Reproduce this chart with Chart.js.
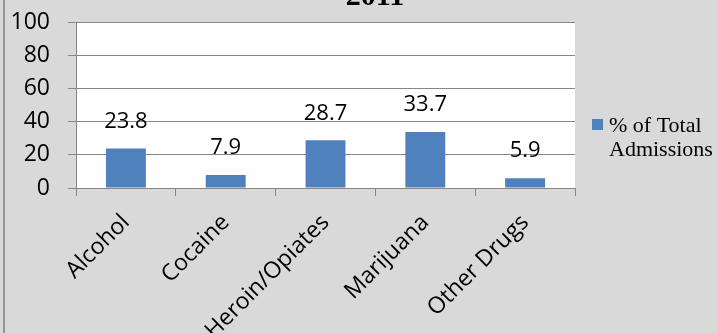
<!DOCTYPE html>
<html>
<head>
<meta charset="utf-8">
<script src="https://cdn.jsdelivr.net/npm/chart.js@4/dist/chart.umd.min.js"></script>
<style>
    html, body { margin: 0; padding: 0; background: #d9d9d9; }
    canvas { display: block; }
</style>
</head>
<body>
<canvas id="admissionsChart" width="717" height="333" style="width:717px;height:333px"></canvas>
<script>
// Chart data
const categories = ['Alcohol', 'Cocaine', 'Heroin/Opiates', 'Marijuana', 'Other Drugs'];
const percentOfAdmissions = [23.8, 7.9, 28.7, 33.7, 5.9];
const seriesName = '% of Total Admissions';
const chartTitle = '2011';
const yMin = 0;
const yMax = 100;
const yStep = 20;

const barColor = '#4f81bd';
const lineColor = '#868686';
const sansFont = "'Open Sans', 'DejaVu Sans', sans-serif";
const serifFont = "'Liberation Serif', 'DejaVu Serif', serif";

// Background, plot area, left frame line, title and legend
const chartDecor = {
    id: 'chartDecor',
    beforeDraw(chart) {
        const { ctx, chartArea } = chart;
        ctx.save();
        ctx.fillStyle = '#d9d9d9';
        ctx.fillRect(0, 0, chart.width, chart.height);
        ctx.fillStyle = '#ffffff';
        ctx.fillRect(chartArea.left, chartArea.top, chartArea.right - chartArea.left, chartArea.bottom - chartArea.top);
        // outer frame, only the left side is inside the picture
        ctx.strokeStyle = '#7f7f7f';
        ctx.lineWidth = 1.5;
        ctx.beginPath();
        ctx.moveTo(4, 0);
        ctx.lineTo(4, chart.height);
        ctx.stroke();
        ctx.restore();
    },
    afterDraw(chart) {
        const { ctx } = chart;
        ctx.save();
        // title, mostly cut off at the top
        ctx.fillStyle = '#000';
        ctx.font = 'bold 30px ' + serifFont;
        ctx.textAlign = 'center';
        ctx.textBaseline = 'alphabetic';
        ctx.fillText(chartTitle, 375, 5);

        // legend: square and two-line label
        ctx.fillStyle = barColor;
        ctx.fillRect(592, 119, 11, 11);
        ctx.fillStyle = '#000';
        ctx.font = '22px ' + serifFont;
        ctx.textAlign = 'left';
        const words = seriesName.split(' ');
        ctx.fillText(words.slice(0, 3).join(' '), 609, 132);
        ctx.fillText(words.slice(3).join(' '), 609, 156);
        ctx.restore();
    }
};

// Value labels above the bars
const barValues = {
    id: 'barValues',
    afterDatasetsDraw(chart) {
        const { ctx } = chart;
        ctx.save();
        ctx.fillStyle = '#000';
        ctx.font = '22px ' + sansFont;
        ctx.textAlign = 'center';
        ctx.textBaseline = 'middle';
        chart.getDatasetMeta(0).data.forEach((bar, i) => {
            ctx.fillText(percentOfAdmissions[i].toFixed(1), bar.x, bar.y - 27);
        });
        ctx.restore();
    }
};

const ctx = document.getElementById('admissionsChart').getContext('2d');
new Chart(ctx, {
    type: 'bar',
    data: {
        labels: categories,
        datasets: [{
            label: seriesName,
            data: percentOfAdmissions,
            backgroundColor: barColor,
            borderWidth: 0,
            barPercentage: 0.4,
            categoryPercentage: 1.0
        }]
    },
    options: {
        responsive: false,
        animation: false,
        layout: { padding: { left: 0, right: 142, top: 22, bottom: 0 } },
        plugins: {
            legend: { display: false },
            title: { display: false },
            tooltip: { enabled: false }
        },
        scales: {
            x: {
                grid: { drawOnChartArea: false, drawTicks: true, tickLength: 8, color: lineColor, offset: true },
                border: { color: lineColor },
                ticks: {
                    color: '#000',
                    font: { family: sansFont, size: 23 },
                    minRotation: 45,
                    maxRotation: 45,
                    autoSkip: false,
                    padding: 13
                },
                afterFit(scale) {
                    scale.height = 145;
                    scale.paddingLeft = 0;
                    scale.paddingRight = 0;
                }
            },
            y: {
                min: yMin,
                max: yMax,
                grid: { color: lineColor, tickLength: 8 },
                border: { color: lineColor },
                ticks: {
                    stepSize: yStep,
                    color: '#000',
                    font: { family: sansFont, size: 23 },
                    padding: 18
                },
                afterFit(scale) {
                    scale.width = 76;
                    scale.paddingTop = 0;
                    scale.paddingBottom = 0;
                }
            }
        }
    },
    plugins: [chartDecor, barValues]
});
</script>
</body>
</html>
